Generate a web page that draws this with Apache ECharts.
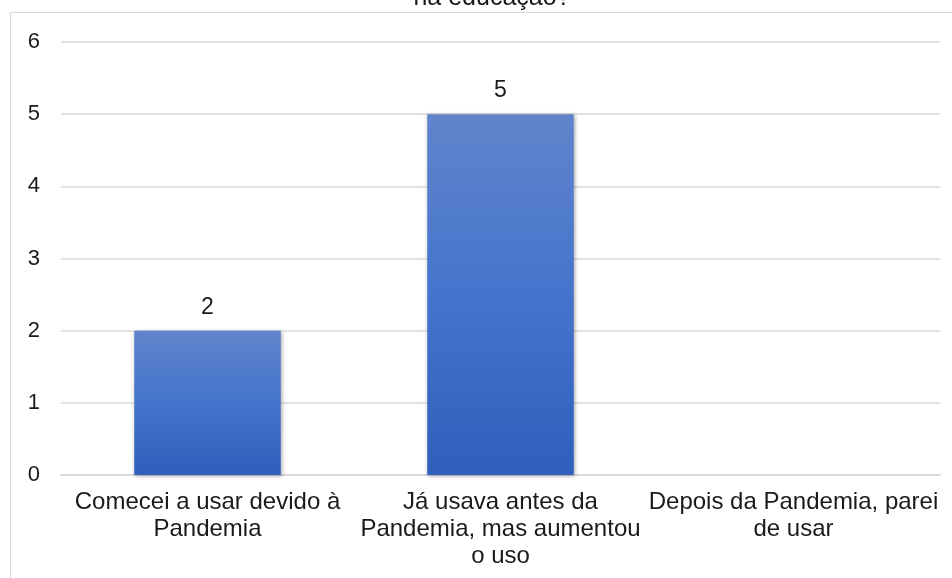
<!DOCTYPE html>
<html>
<head>
<meta charset="utf-8">
<script src="https://cdn.jsdelivr.net/npm/echarts@6/dist/echarts.min.js"></script>
<style>html,body{margin:0;padding:0;background:#fff;}#c{width:952px;height:578px;}</style>
</head>
<body>
<div id="c"></div>
<script>
var titleText = "na educação?";
var categories = ["Comecei a usar devido à\nPandemia", "Já usava antes da\nPandemia, mas aumentou\no uso", "Depois da Pandemia, parei\nde usar"];
var values = [2, 5, 0];
var yTicks = [0, 1, 2, 3, 4, 5, 6];

var chart = echarts.init(document.getElementById('c'), null, {renderer: 'canvas'});
var font = 'Arial, "Liberation Sans", sans-serif';
chart.setOption({
  backgroundColor: '#ffffff',
  animation: false,
  graphic: [{
    type: 'rect', silent: true, z: 0,
    shape: {x: 10.5, y: 12.5, width: 1000, height: 700},
    style: {fill: 'none', stroke: '#d9d9d9', lineWidth: 1}
  }],
  title: {
    text: titleText, left: 487, top: -19, textAlign: 'center',
    textStyle: {fontFamily: font, fontSize: 25, fontWeight: 'normal', color: '#1a1a1a'}
  },
  grid: {left: 61, right: 12, top: 42, bottom: 103, containLabel: false},
  xAxis: {
    type: 'category', data: categories,
    axisLine: {lineStyle: {color: '#d9d9d9', width: 2}},
    axisTick: {show: false},
    axisLabel: {interval: 0, margin: 14, fontFamily: font, fontSize: 24, lineHeight: 27, color: '#1a1a1a', align: 'center'}
  },
  yAxis: {
    type: 'value', min: yTicks[0], max: yTicks[yTicks.length - 1], interval: 1,
    axisLine: {show: false}, axisTick: {show: false},
    splitLine: {lineStyle: {color: '#d9d9d9', width: 1.5}},
    axisLabel: {margin: 21, fontFamily: font, fontSize: 22, color: '#1a1a1a'}
  },
  series: [{
    type: 'bar', data: values, barWidth: '50%',
    itemStyle: {
      color: new echarts.graphic.LinearGradient(0, 0, 0, 1, [
        {offset: 0, color: '#6184cc'},
        {offset: 0.5, color: '#4474cc'},
        {offset: 1, color: '#2f5fbb'}
      ]),
      shadowColor: 'rgba(0,0,0,0.35)', shadowBlur: 4, shadowOffsetX: 1, shadowOffsetY: 1
    },
    label: {
      show: true, position: 'top', distance: 12,
      fontFamily: font, fontSize: 23, color: '#1a1a1a',
      formatter: function (p) { return p.value > 0 ? String(p.value) : ''; }
    }
  }]
});
</script>
</body>
</html>
